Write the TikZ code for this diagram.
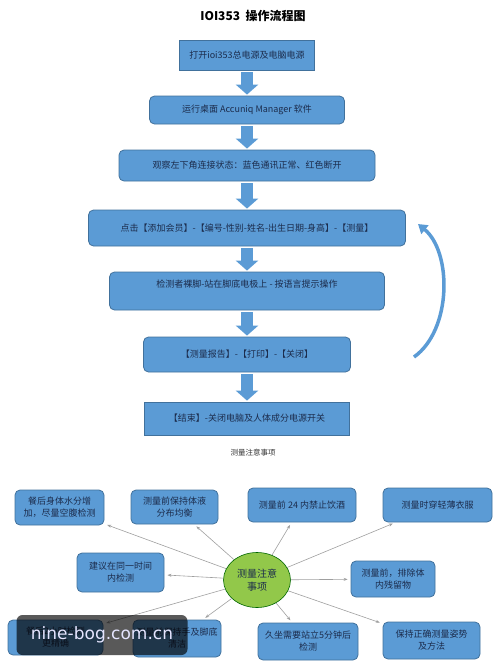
\documentclass[tikz,border=0pt]{standalone}
\usepackage{fontspec}
\setmainfont{Noto Sans CJK SC}
\newfontfamily\markfont{DejaVu Sans}
\usetikzlibrary{shapes.geometric, arrows.meta}
\definecolor{boxblue}{HTML}{5B9BD5}
\definecolor{boxline}{HTML}{41719C}
\definecolor{inktext}{HTML}{1C2C4C}
\definecolor{hubgreen}{HTML}{92C84A}
\tikzstyle{process} = [rectangle, rounded corners=5pt, text centered, align=center, draw=boxline, fill=boxblue, line width=0.8pt, text=inktext, font=\fontsize{9}{12}\selectfont, inner sep=2pt]
\tikzstyle{squarebox} = [process, sharp corners]
\tikzstyle{blockarrow} = [draw=boxblue, line width=12pt, -{Triangle[width=22pt,length=10pt]}, shorten <=2pt, shorten >=1pt]
\tikzstyle{looparrow} = [draw=boxblue, line width=3.5pt, -{Triangle[width=11pt,length=9pt]}]
\tikzstyle{hub} = [ellipse, draw=green!40!black, fill=hubgreen, line width=0.6pt, text=inktext, align=center, font=\fontsize{10}{13}\selectfont, minimum width=67pt, minimum height=55pt, inner sep=0pt]
\tikzstyle{spoke} = [draw=gray!75, line width=0.6pt, -{Stealth[length=4pt,width=3pt]}, shorten >=3pt]
\tikzstyle{watermark} = [rectangle, rounded corners=6pt, fill=black, fill opacity=0.65, text opacity=1, text=white!90!blue, font=\markfont\fontsize{17}{20}\selectfont, minimum width=171pt, minimum height=40pt]

\begin{document}
\begin{tikzpicture}[x=1pt, y=-1pt]
\useasboundingbox (0,0) rectangle (500,672);

\node (title) at (253,16) [font=\bfseries\fontsize{12}{14}\selectfont] {IOI353\ \ 操作流程图};

\node (start) at (247,55) [squarebox, minimum width=135pt, minimum height=30pt] {打开ioi353总电源及电脑电源};
\node (soft) at (247,110) [process, minimum width=195pt, minimum height=28pt] {运行桌面 Accuniq Manager 软件};
\node (state) at (247,165.5) [process, minimum width=256pt, minimum height=31pt] {观察左下角连接状态：蓝色通讯正常、红色断开};
\node (member) at (247,228) [process, minimum width=317pt, minimum height=36pt] {点击【添加会员】-【编号-性别-姓名-出生日期-身高】-【测量】};
\node (stand) at (247,291) [process, minimum width=275pt, minimum height=38pt] {检测者裸脚-站在脚底电极上 - 按语言提示操作\\ \strut};
\node (report) at (247,354.5) [process, minimum width=207pt, minimum height=35pt] {【测量报告】-【打印】-【关闭】};
\node (finish) at (247,418.5) [squarebox, minimum width=205pt, minimum height=33pt] {【结束】-关闭电脑及人体成分电源开关};
%% flechas de bloque entre los pasos
\draw [blockarrow] (start) -- (soft);
\draw [blockarrow] (soft) -- (state);
\draw [blockarrow] (state) -- (member);
\draw [blockarrow] (member) -- (stand);
\draw [blockarrow] (stand) -- (report);
\draw [blockarrow] (report) -- (finish);
%% flecha de regreso
\coordinate (loopstart) at (414,357);
\coordinate (loopend) at (418,224);
\draw [looparrow] (loopstart) .. controls (452,330) and (452,252) .. (loopend);

\node (notes) at (253,453) [font=\fontsize{7.5}{9}\selectfont, text=black!80] {测量注意事项};

\node (center) at (257,580) [hub] {测量注意\\事项};
\node (n1) at (59.5,507.5) [process, minimum width=89pt, minimum height=35pt] {餐后身体水分增\\加，尽量空腹检测};
\node (n2) at (174.5,507) [process, minimum width=87pt, minimum height=34pt] {测量前保持体液\\分布均衡};
\node (n3) at (302,505) [process, minimum width=108pt, minimum height=34pt] {测量前 24 内禁止饮酒};
\node (n4) at (437.5,505) [process, minimum width=109pt, minimum height=34pt] {测量时穿轻薄衣服};
\node (n5) at (120.5,572.5) [process, minimum width=87pt, minimum height=39pt] {建议在同一时间\\内检测};
\node (n6) at (393,579) [process, minimum width=84pt, minimum height=36pt] {测量前，排除体\\内残留物};
\node (n7) at (55.5,637.5) [process, minimum width=95pt, minimum height=35pt] {餐后2小时检测\\更精确};
\node (n8) at (177,638.5) [process, minimum width=88pt, minimum height=37pt] {测量前保持手及脚底\\清洁};
\node (n9) at (308,641.5) [process, minimum width=100pt, minimum height=37pt] {久坐需要站立5分钟后\\检测};
\node (n10) at (431.5,640.5) [process, minimum width=97pt, minimum height=37pt] {保持正确测量姿势\\及方法};
%% flechas desde el centro
\foreach \n in {n1,n2,n3,n4,n5,n6,n7,n8,n9,n10}
  \draw [spoke] (center) -- (\n);

\node (mark) at (102,635) [watermark] {nine-bog.com.cn};

\end{tikzpicture}
\end{document}
